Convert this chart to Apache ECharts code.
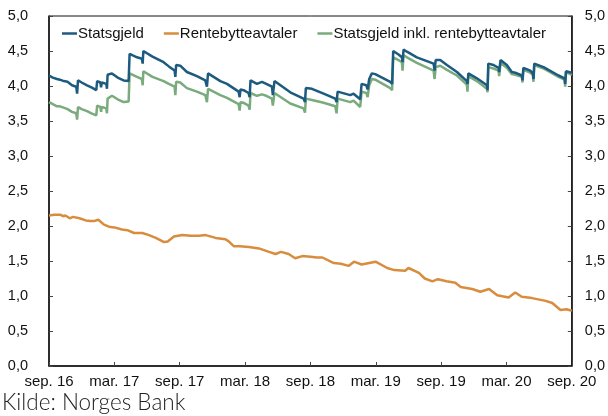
<!DOCTYPE html>
<html>
<head>
<meta charset="utf-8">
<script src="https://cdn.jsdelivr.net/npm/echarts@6/dist/echarts.min.js"></script>
<style>
  html, body { margin: 0; padding: 0; background: #fff; }
  #chart { width: 608px; height: 416px; }
</style>
</head>
<body>
<div id="chart"></div>
<script>
// x values are months after sep. 2016
var xTickLabels = ['sep. 16', 'mar. 17', 'sep. 17', 'mar. 18', 'sep. 18', 'mar. 19', 'sep. 19', 'mar. 20', 'sep. 20']
var yTicks = [0, 0.5, 1, 1.5, 2, 2.5, 3, 3.5, 4, 4.5, 5]
var seriesNames = ['Statsgjeld', 'Rentebytteavtaler', 'Statsgjeld inkl. rentebytteavtaler']

var statsgjeld = [
  [0, 4.15], [0.35, 4.12], [0.73, 4.10], [1.0, 4.09], [1.35, 4.07], [1.7, 4.06], [2.11, 4.01], [2.5, 3.99], [2.58, 3.89], [2.66, 4.08],
  [3.0, 4.05], [3.49, 4.01], [3.9, 3.98], [4.34, 3.94], [4.42, 4.07], [4.72, 4.05], [4.78, 3.98], [4.84, 4.05], [5.26, 4.03], [5.32, 3.96],
  [5.38, 4.16], [5.78, 4.18], [6.3, 4.12], [6.85, 4.08], [7.31, 4.07], [7.4, 4.46], [8.08, 4.41], [8.53, 4.39], [8.6, 4.32], [8.66, 4.50],
  [9.5, 4.42], [10.52, 4.34], [11.0, 4.28], [11.53, 4.22], [11.6, 4.13], [11.67, 4.30], [12.05, 4.29], [12.66, 4.20], [13.58, 4.14], [14.35, 4.08],
  [14.5, 3.99], [14.6, 4.18], [15.73, 4.07], [16.34, 4.03], [17.41, 3.92], [17.5, 3.84], [17.58, 3.95], [17.87, 3.94], [18.32, 3.90], [18.42, 3.84],
  [18.5, 4.08], [19.09, 4.03], [19.55, 4.06], [19.95, 4.03], [20.47, 3.99], [20.55, 3.87], [20.7, 4.07], [22.15, 3.91], [23.37, 3.82], [23.5, 3.77],
  [23.58, 3.97], [24.14, 3.96], [25.21, 3.89], [26.28, 3.82], [26.4, 3.77], [26.5, 3.92], [27.66, 3.87], [27.96, 3.89], [28.57, 3.81], [28.7, 4.03],
  [29.13, 4.01], [29.25, 3.95], [29.4, 4.10], [29.64, 4.18], [29.95, 4.17], [31.33, 4.06], [31.5, 4.03], [31.6, 4.50], [32.09, 4.45], [32.4, 4.41],
  [32.46, 4.34], [32.55, 4.52], [32.86, 4.49], [33.77, 4.41], [35.31, 4.32], [35.4, 4.22], [35.5, 4.37], [35.92, 4.37], [36.53, 4.30], [37.45, 4.20],
  [38.36, 4.07], [38.42, 4.03], [38.5, 4.18], [39.28, 4.11], [40.2, 4.01], [40.26, 3.94], [40.33, 4.32], [40.81, 4.30], [41.27, 4.26], [41.33, 4.20],
  [41.45, 4.37], [42.03, 4.30], [42.49, 4.20], [42.8, 4.19], [43.41, 4.15], [43.47, 4.08], [43.55, 4.26], [44.18, 4.22], [44.42, 4.18], [44.48, 4.10],
  [44.55, 4.32], [45.4, 4.27], [46.78, 4.15], [47.33, 4.11], [47.39, 4.03], [47.46, 4.21], [48, 4.19]
]

var rentebytte = [
  [0, 2.15], [0.5, 2.16], [1.07, 2.16], [1.3, 2.14], [1.5, 2.15], [1.9, 2.11], [2.2, 2.13], [2.8, 2.11], [3.37, 2.08], [3.8, 2.07],
  [4.13, 2.07], [4.53, 2.09], [5.05, 2.02], [5.5, 1.99], [6.0, 1.98], [6.7, 1.95], [7.2, 1.94], [7.8, 1.90], [8.57, 1.90], [9.18, 1.87],
  [9.8, 1.83], [10.3, 1.79], [10.55, 1.77], [10.9, 1.78], [11.47, 1.85], [12.23, 1.87], [13.0, 1.86], [13.77, 1.86], [14.38, 1.87], [15.3, 1.83],
  [16.2, 1.81], [16.5, 1.78], [16.98, 1.71], [17.5, 1.71], [18.36, 1.70], [19.27, 1.68], [20.2, 1.63], [20.8, 1.60], [21.3, 1.63], [22.0, 1.60],
  [22.6, 1.54], [23.25, 1.57], [24.0, 1.56], [24.6, 1.55], [25.1, 1.55], [26.15, 1.47], [26.8, 1.46], [27.5, 1.43], [28.0, 1.49], [28.7, 1.45],
  [29.98, 1.49], [31.05, 1.40], [31.7, 1.37], [32.7, 1.36], [33.0, 1.40], [33.96, 1.33], [34.5, 1.25], [35.2, 1.21], [35.7, 1.24], [36.5, 1.21],
  [37.3, 1.19], [37.8, 1.13], [38.85, 1.10], [39.6, 1.06], [40.4, 1.10], [41.15, 1.01], [42.2, 0.98], [42.8, 1.05], [43.4, 0.99], [44.35, 0.97],
  [45.6, 0.93], [46.2, 0.90], [46.96, 0.80], [47.5, 0.81], [48, 0.79]
]

var statsgjeldInkl = [
  [0, 3.77], [0.35, 3.74], [0.73, 3.71], [1.0, 3.71], [1.35, 3.69], [1.7, 3.67], [2.11, 3.63], [2.5, 3.61], [2.58, 3.52], [2.66, 3.70],
  [3.0, 3.67], [3.49, 3.64], [3.9, 3.61], [4.34, 3.58], [4.42, 3.72], [4.72, 3.70], [4.78, 3.63], [4.84, 3.70], [5.26, 3.68], [5.32, 3.61],
  [5.38, 3.82], [5.78, 3.86], [6.3, 3.81], [6.85, 3.77], [7.31, 3.78], [7.4, 4.18], [8.08, 4.13], [8.53, 4.10], [8.6, 4.01], [8.66, 4.21],
  [9.5, 4.13], [10.52, 4.07], [11.0, 4.03], [11.53, 3.99], [11.6, 3.87], [11.67, 4.06], [12.05, 4.05], [12.66, 3.97], [13.58, 3.92], [14.35, 3.87],
  [14.5, 3.77], [14.6, 3.96], [15.73, 3.87], [16.34, 3.83], [17.41, 3.74], [17.5, 3.65], [17.58, 3.77], [17.87, 3.76], [18.32, 3.72], [18.42, 3.66],
  [18.5, 3.90], [19.09, 3.86], [19.55, 3.88], [19.95, 3.86], [20.47, 3.82], [20.55, 3.72], [20.7, 3.90], [22.15, 3.75], [23.37, 3.68], [23.5, 3.62],
  [23.58, 3.82], [24.14, 3.80], [25.21, 3.76], [26.28, 3.71], [26.4, 3.61], [26.5, 3.82], [27.66, 3.77], [27.96, 3.79], [28.57, 3.70], [28.7, 3.92],
  [29.13, 3.90], [29.25, 3.84], [29.4, 4.01], [29.64, 4.10], [29.95, 4.09], [31.33, 3.97], [31.5, 3.94], [31.6, 4.41], [32.09, 4.37], [32.4, 4.34],
  [32.46, 4.22], [32.55, 4.44], [32.86, 4.41], [33.77, 4.33], [35.31, 4.22], [35.4, 4.10], [35.5, 4.27], [35.92, 4.29], [36.53, 4.23], [37.45, 4.15],
  [38.36, 4.02], [38.42, 3.92], [38.5, 4.14], [39.28, 4.07], [40.2, 3.96], [40.26, 3.91], [40.33, 4.27], [40.81, 4.25], [41.27, 4.22], [41.33, 4.14],
  [41.45, 4.33], [42.03, 4.26], [42.49, 4.17], [42.8, 4.16], [43.41, 4.13], [43.47, 4.05], [43.55, 4.23], [44.18, 4.19], [44.42, 4.16], [44.48, 4.06],
  [44.55, 4.30], [45.4, 4.25], [46.78, 4.13], [47.33, 4.09], [47.39, 3.99], [47.46, 4.20], [48, 4.16]
]

var colors = ['#1d5a80', '#d88d3e', '#79ab7d']

var chart = echarts.init(document.getElementById('chart'))

function yAxisOpt(pos, margin) {
  return {
    type: 'value',
    position: pos,
    min: yTicks[0],
    max: yTicks[yTicks.length - 1],
    interval: 0.5,
    axisLine: { show: true, lineStyle: { color: '#111', width: 1.5 } },
    axisTick: { show: true, inside: true, length: 4, lineStyle: { color: '#444' } },
    splitLine: { show: false },
    axisLabel: {
      margin: margin,
      color: '#111',
      fontSize: 14.5,
      fontFamily: 'Liberation Sans, Arial',
      formatter: function (v) { return v.toFixed(1).replace('.', ',') }
    }
  }
}

chart.setOption({
  animation: false,
  color: colors,
  grid: {
    left: 49,
    right: 35,
    top: 16,
    bottom: 50,
    show: true,
    borderColor: '#111',
    borderWidth: 1
  },
  legend: {
    top: 21,
    left: 'center',
    icon: 'rect',
    itemWidth: 15,
    itemHeight: 2.5,
    itemGap: 20,
    textStyle: {
      fontSize: 15,
      color: '#111',
      fontFamily: 'Liberation Sans, Arial',
      padding: [0, 0, 0, -4]
    },
    data: seriesNames
  },
  graphic: [{
    type: 'text',
    left: 2,
    top: 391,
    style: {
      text: 'Kilde: Norges Bank',
      fontSize: 22.5,
      fontWeight: 300,
      fontFamily: 'Lato, Open Sans, sans-serif',
      fill: '#222'
    }
  }],
  xAxis: {
    type: 'value',
    min: 0,
    max: (xTickLabels.length - 1) * 6,
    interval: 6,
    axisLine: { show: true, lineStyle: { color: '#111', width: 1.5 } },
    axisTick: { show: true, inside: true, length: 4, lineStyle: { color: '#444' } },
    splitLine: { show: false },
    axisLabel: {
      margin: 8,
      color: '#111',
      fontSize: 15,
      fontFamily: 'Liberation Sans, Arial',
      formatter: function (v) { return xTickLabels[Math.round(v / 6)] }
    }
  },
  yAxis: [yAxisOpt('left', 21), yAxisOpt('right', 13)],
  series: [
    { name: seriesNames[0], type: 'line', data: statsgjeld, showSymbol: false, lineStyle: { width: 2.5 }, z: 3 },
    { name: seriesNames[1], type: 'line', data: rentebytte, showSymbol: false, lineStyle: { width: 2.5 }, z: 2 },
    { name: seriesNames[2], type: 'line', data: statsgjeldInkl, showSymbol: false, lineStyle: { width: 2.5 }, z: 2 }
  ]
})
</script>
</body>
</html>
